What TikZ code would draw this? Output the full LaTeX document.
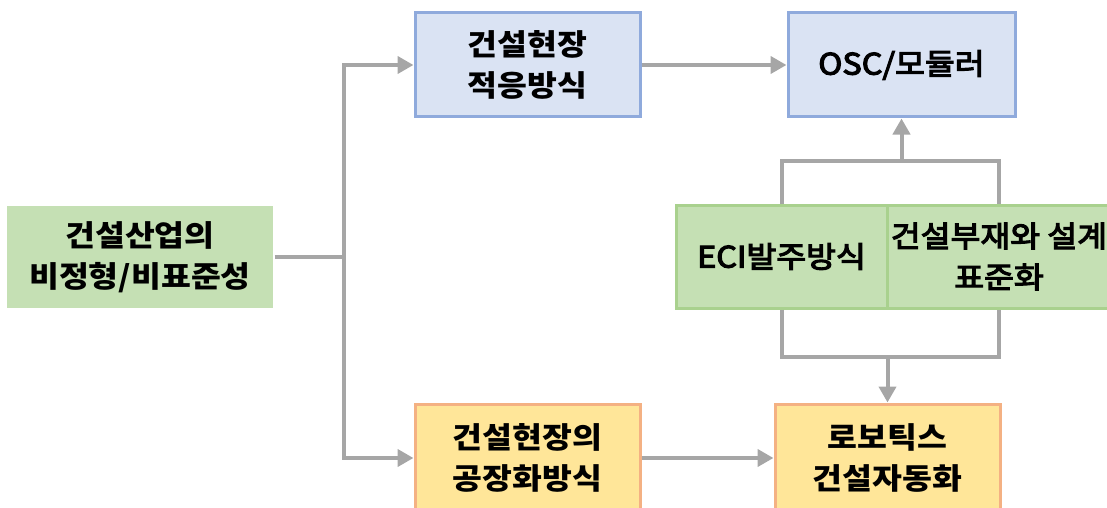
\documentclass[tikz,border=0pt]{standalone}
\usepackage{fontspec}
\usetikzlibrary{arrows.meta,calc}
\newfontfamily\kr{Noto Sans CJK KR}[FakeStretch=1.1]
\newfontfamily\krm{Noto Sans CJK KR}[FakeStretch=1.1, FakeBold=4]
\definecolor{gfill}{HTML}{C5E0B4}
\definecolor{gline}{HTML}{A9D18E}
\definecolor{bfill}{HTML}{DAE3F3}
\definecolor{bline}{HTML}{8FAADC}
\definecolor{ofill}{HTML}{FFE699}
\definecolor{oline}{HTML}{F4B183}
\definecolor{conn}{HTML}{A6A6A6}
\tikzset{
  box/.style={rectangle, align=center, inner sep=0pt, line width=3pt,
    font=\kr\bfseries\fontsize{29.5}{41}\selectfont, text=black},
  medium/.style={font=\krm\fontsize{29.5}{41}\selectfont},
  greenbox/.style={box, fill=gfill, draw=gline},
  bluebox/.style={box, fill=bfill, draw=bline},
  orangebox/.style={box, fill=ofill, draw=oline},
  link/.style={draw=conn, line width=4pt},
  arr/.style={link, -{Triangle[length=16pt,width=17pt]}},
}
\begin{document}
\begin{tikzpicture}[x=1pt,y=-1pt]
\useasboundingbox (0,0) rectangle (1107,508);
\clip (0,0) rectangle (1107,508);
% nodes
\node[box, fill=gfill, minimum width=266pt, minimum height=102pt] (src) at (140,257) {건설산업의\\비정형/비표준성};
\node[bluebox, minimum width=225pt, minimum height=104pt] (site) at (527.5,65) {건설현장\\적응방식};
\node[bluebox, medium, minimum width=227pt, minimum height=104pt] (osc) at (901.5,65) {OSC/모듈러};
\node[greenbox, medium, minimum width=211pt, minimum height=103pt] (eci) at (781.5,256.5) {ECI발주방식};
\node[greenbox, medium, minimum width=224pt, minimum height=103pt] (std) at (999,256.5) {건설부재와 설계\\표준화};
\node[orangebox, minimum width=225pt, minimum height=108pt] (fac) at (527.5,458) {건설현장의\\공장화방식};
\node[orangebox, minimum width=225pt, minimum height=108pt] (rob) at (887.5,458) {로보틱스\\건설자동화};
% junctions
\coordinate (jm) at (344,257);
\coordinate (jt) at (344,65);
\coordinate (jb) at (344,458);
\coordinate (tm) at (901.5,161);
\coordinate (bm) at (887.5,357);
% connectors
\draw[link] (src.east) -- (jm);
\draw[link] (jt) -- (jb);
\draw[arr] ([xshift=-2pt]jt) -- (site.west);
\draw[arr] ([xshift=-2pt]jb) -- (fac.west);
\draw[arr] (site.east) -- (osc.west);
\draw[arr] (fac.east) -- (rob.west);
\draw[link] (eci.north) |- (tm) -| (std.north);
\draw[arr] (tm) -- (osc.south);
\draw[link] (eci.south) |- (bm) -| (std.south);
\draw[arr] (bm) -- (rob.north);
\end{tikzpicture}
\end{document}
